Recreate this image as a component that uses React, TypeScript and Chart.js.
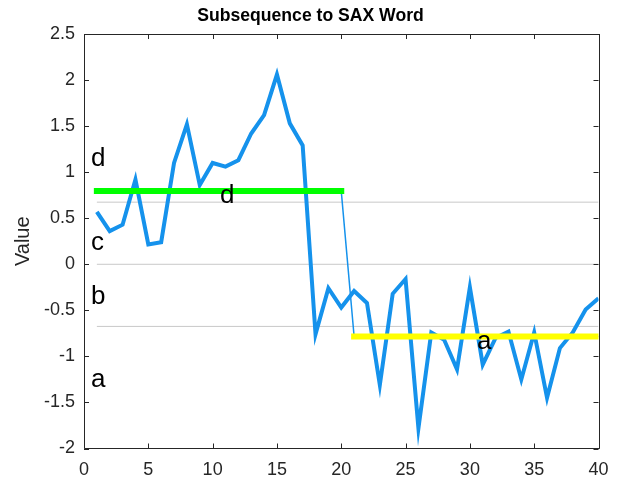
import { useEffect, useRef } from 'react';
import { Chart, registerables } from 'chart.js';

Chart.register(...registerables);

// ---- data ----
const sampleIndex = [
  1, 2, 3, 4, 5, 6, 7, 8, 9, 10, 11, 12, 13, 14, 15, 16, 17, 18, 19, 20,
  21, 22, 23, 24, 25, 26, 27, 28, 29, 30, 31, 32, 33, 34, 35, 36, 37, 38, 39, 40,
];
const subsequence = [
  0.57, 0.36, 0.43, 0.92, 0.215, 0.24, 1.1, 1.52, 0.86, 1.1,
  1.06, 1.13, 1.42, 1.62, 2.06, 1.53, 1.29, -0.76, -0.26, -0.47,
  -0.29, -0.42, -1.31, -0.32, -0.16, -1.78, -0.74, -0.82, -1.14, -0.25,
  -1.09, -0.8, -0.73, -1.25, -0.74, -1.45, -0.91, -0.74, -0.49, -0.37,
];
const paaStart = [1, 21];
const paaEnd = [20, 40];
const paaValues = [0.795, -0.785];
const paaColors = ['#00ff00', '#ffff00'];
const breakpoints = [-0.6745, 0, 0.6745];
const alphabet = ['a', 'b', 'c', 'd'];
const alphabetLabelX = 0.55;
const alphabetLabelY = [-1.33, -0.43, 0.155, 1.067];
const wordLetters = ['d', 'a'];
const wordLabelX = [10.58, 30.56];
const wordLabelY = [0.666, -0.92];
const xTicks = [0, 5, 10, 15, 20, 25, 30, 35, 40];
const yTicks = [-2, -1.5, -1, -0.5, 0, 0.5, 1, 1.5, 2, 2.5];

const FONT = "'Liberation Sans', Arial, Helvetica, sans-serif";
const AXIS_COLOR = '#262626';

const boxPlugin = {
  id: 'matlabBox',
  afterDatasetsDraw(chart: any) {
    const ctx = chart.ctx;
    const xs = chart.scales.x;
    const ys = chart.scales.y;
    ctx.save();
    ctx.fillStyle = '#000000';
    ctx.font = `26px ${FONT}`;
    ctx.textAlign = 'left';
    ctx.textBaseline = 'alphabetic';
    alphabet.forEach((ch, i) => {
      ctx.fillText(ch, xs.getPixelForValue(alphabetLabelX), ys.getPixelForValue(alphabetLabelY[i]));
    });
    wordLetters.forEach((ch, i) => {
      ctx.fillText(ch, xs.getPixelForValue(wordLabelX[i]), ys.getPixelForValue(wordLabelY[i]));
    });
    ctx.restore();
  },
  afterDraw(chart: any) {
    const ctx = chart.ctx;
    const { left, right, top, bottom } = chart.chartArea;
    const xs = chart.scales.x;
    const ys = chart.scales.y;
    const tl = 5;
    ctx.save();
    ctx.strokeStyle = AXIS_COLOR;
    ctx.lineWidth = 1;
    ctx.beginPath();
    ctx.rect(Math.round(left) + 0.5, Math.round(top) + 0.5, Math.round(right - left), Math.round(bottom - top));
    xTicks.forEach((v) => {
      const px = Math.round(xs.getPixelForValue(v)) + 0.5;
      ctx.moveTo(px, bottom);
      ctx.lineTo(px, bottom - tl);
      ctx.moveTo(px, top);
      ctx.lineTo(px, top + tl);
    });
    yTicks.forEach((v) => {
      const py = Math.round(ys.getPixelForValue(v)) + 0.5;
      ctx.moveTo(left, py);
      ctx.lineTo(left + tl, py);
      ctx.moveTo(right, py);
      ctx.lineTo(right - tl, py);
    });
    ctx.stroke();
    ctx.restore();
  },
};

export default function App() {
  const canvasRef = useRef<HTMLCanvasElement | null>(null);

  useEffect(() => {
    if (!canvasRef.current) return;
    const datasets: any[] = [];

    // PAA segments (thick, on top)
    paaValues.forEach((v, i) => {
      datasets.push({
        label: 'PAA ' + (i + 1),
        data: [
          { x: paaStart[i], y: v },
          { x: paaEnd[i], y: v },
        ],
        borderColor: paaColors[i],
        borderWidth: 6,
        borderCapStyle: 'square',
        pointRadius: 0,
        order: 0,
      });
    });

    // original subsequence
    datasets.push({
      label: 'Subsequence',
      data: sampleIndex.map((x, i) => ({ x, y: subsequence[i] })),
      borderColor: '#1592ec',
      borderWidth: 4,
      pointRadius: 0,
      borderJoinStyle: 'miter',
      order: 1,
    });

    // thin PAA step line
    const stepData: any[] = [];
    paaValues.forEach((v, i) => {
      stepData.push({ x: paaStart[i], y: v });
      stepData.push({ x: paaEnd[i], y: v });
    });
    datasets.push({
      label: 'PAA line',
      data: stepData,
      borderColor: '#1592ec',
      borderWidth: 1.5,
      pointRadius: 0,
      order: 2,
    });

    // breakpoints
    breakpoints.forEach((b, i) => {
      datasets.push({
        label: 'Breakpoint ' + (i + 1),
        data: [
          { x: sampleIndex[0], y: b },
          { x: sampleIndex[sampleIndex.length - 1], y: b },
        ],
        borderColor: '#c8c8c8',
        borderWidth: 1,
        pointRadius: 0,
        order: 3,
      });
    });

    const chart = new Chart(canvasRef.current, {
      type: 'line',
      data: { datasets },
      plugins: [boxPlugin],
      options: {
        animation: false,
        responsive: true,
        maintainAspectRatio: false,
        layout: { padding: 0 },
        plugins: {
          legend: { display: false },
          tooltip: { enabled: false },
          title: {
            display: true,
            text: 'Subsequence to SAX Word',
            color: '#000000',
            font: { family: FONT, size: 17.6, weight: 'bold' },
            padding: { top: 6, bottom: 6.9 },
          },
        },
        scales: {
          x: {
            type: 'linear',
            min: 0,
            max: 40,
            afterBuildTicks: (scale: any) => {
              scale.ticks = xTicks.map((v) => ({ value: v }));
            },
            afterFit: (scale: any) => {
              scale.height = 36.5;
            },
            grid: { display: false, drawTicks: false },
            border: { display: false },
            ticks: {
              color: AXIS_COLOR,
              font: { family: FONT, size: 18 },
              padding: 11,
              maxRotation: 0,
            },
          },
          y: {
            type: 'linear',
            min: -2,
            max: 2.5,
            afterBuildTicks: (scale: any) => {
              scale.ticks = yTicks.map((v) => ({ value: v }));
            },
            afterFit: (scale: any) => {
              scale.width = 84;
            },
            grid: { display: false, drawTicks: false },
            border: { display: false },
            ticks: {
              color: AXIS_COLOR,
              font: { family: FONT, size: 18 },
              padding: 9,
              callback: (v: any) => String(v),
            },
            title: {
              display: true,
              text: 'Value',
              color: AXIS_COLOR,
              font: { family: FONT, size: 20 },
              padding: { top: 11, bottom: 0 },
            },
          },
          yRight: {
            type: 'linear',
            position: 'right',
            min: -2,
            max: 2.5,
            display: true,
            grid: { display: false, drawTicks: false },
            border: { display: false },
            ticks: { display: false },
            afterFit: (scale: any) => {
              scale.width = 22.5;
            },
          },
        },
      },
    });
    return () => chart.destroy();
  }, []);

  return (
    <div style={{ position: 'absolute', left: 0, top: 0, width: 621, height: 485, background: '#ffffff' }}>
      <canvas ref={canvasRef} />
    </div>
  );
}
